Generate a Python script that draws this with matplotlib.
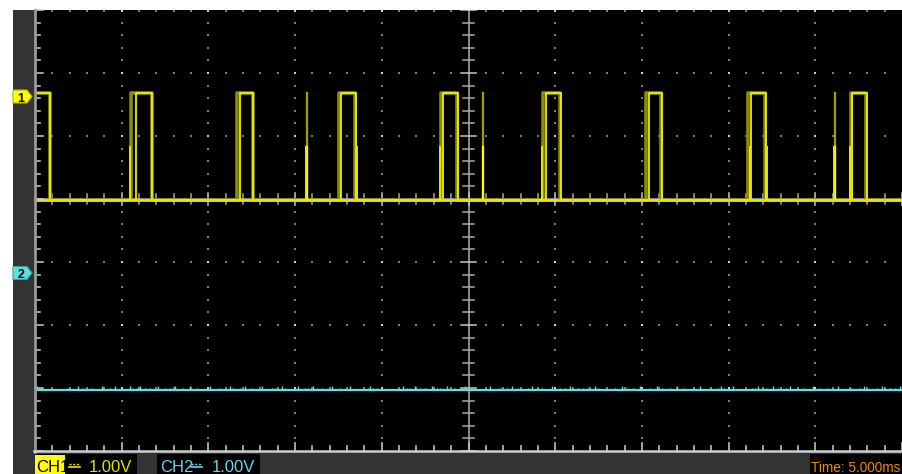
import numpy as np
import matplotlib
matplotlib.use("Agg")
import matplotlib.pyplot as plt
from matplotlib.patches import Rectangle, Polygon

W, H = 902, 474

# ---------------- data (screen units: ms and V, 5 ms/div, 1 V/div) ----------------
time_span_ms = 50.0
v_top, v_bottom = 3.0, -4.0
ch1_high = 1.68
ch1_low = -0.02
ch1_bright_rise = [5.83, 11.83, 17.66, 23.54, 29.48, 35.43, 41.31, 47.14]
ch1_bright_fall = [0.87, 6.75, 12.58, 18.52, 24.41, 30.35, 36.18, 42.18, 48.01]
ch1_dim_rise = [5.54, 11.66, 17.54, 23.43, 29.31, 35.25, 41.14, 47.03]
ch1_dim_fall = [0.84, 6.72, 12.55, 18.46, 24.35, 30.29, 36.12, 42.10, 47.95]
ch1_glitch = [15.69, 25.85, 46.15]
ch1_half_edges = [5.45, 15.60, 18.58, 23.38, 29.25, 41.25, 42.20, 46.10, 46.98]
ch1_half_level = 0.83
ch2_level = -3.03
ch2_spikes_tall = [0.1, 2.48, 3.87, 4.61, 5.48, 6.06, 7.10, 8.08, 8.94, 10.10, 11.25,
                   12.12, 13.10, 14.25, 15.18, 16.04, 17.14, 18.18, 19.33, 21.23, 21.93,
                   22.91, 23.77, 24.81, 26.25, 27.52, 28.68, 29.83, 30.87, 32.31, 33.87,
                   34.91, 35.89, 37.04, 38.37, 39.58, 40.27, 41.72, 42.58, 43.56, 44.89,
                   46.33, 47.78, 48.87, 49.91]
ch2_spikes_short = [0.4, 1.85, 2.77, 3.29, 4.33, 5.02, 5.65, 5.89, 6.35, 6.64, 7.50, 7.79,
                    8.54, 9.35, 10.67, 11.42, 11.83, 12.52, 13.68, 13.85, 14.43, 15.00,
                    15.58, 15.75, 16.27, 16.56, 17.60, 19.21, 19.50, 19.73, 21.46, 21.64,
                    22.21, 22.50, 23.20, 23.37, 24.23, 24.52, 26.83, 27.23, 27.87, 28.45,
                    28.97, 29.25, 30.29, 30.58, 31.33, 31.62, 31.91, 32.49, 33.47, 34.16,
                    34.51, 35.49, 36.18, 36.64, 37.39, 37.97, 38.95, 39.41, 39.76, 39.99,
                    41.37, 41.54, 42.00, 42.24, 42.87, 43.33, 44.31, 45.29, 45.70, 47.03,
                    47.60, 48.58, 49.33, 49.62]
ch2_tall_h = 0.06
ch2_short_h = 0.03
ch1_label = ["CH1", "1.00V"]
ch2_label = ["CH2", "1.00V"]
time_label = "Time: 5.000ms"

# ---------------- figure ----------------
fig = plt.figure(figsize=(W / 100, H / 100), dpi=100, facecolor="white")
FONT = ["Liberation Sans", "DejaVu Sans"]


def frect(x0, y0, x1, y1, color, z=0.5):
    fig.add_artist(Rectangle((x0 / W, 1 - y1 / H), (x1 - x0) / W, (y1 - y0) / H,
                             transform=fig.transFigure, facecolor=color,
                             edgecolor="none", zorder=z))


def fline(xs, ys, color, lw, z=3, ls="-"):
    fig.add_artist(plt.Line2D([x / W for x in xs], [1 - y / H for y in ys],
                              transform=fig.transFigure, color=color, lw=lw, zorder=z,
                              linestyle=ls))


def ftext(x, y, s, color, size=12, z=4, **kw):
    fig.text(x / W, 1 - y / H, s, color=color, fontsize=size, family=FONT,
             va="baseline", ha="left", zorder=z, **kw)


def dc_symbol(x, color):
    # DC coupling sign (U+2393, no installed font has it): dashed line over a solid line
    fline([x, x + 11], [463.5, 463.5], color, 1.0, z=4, ls=(0, (1.5, 1.2)))
    fline([x, x + 11], [467, 467], color, 1.2, z=4)


# background strips
frect(13, 10, 35, 474, "#333333")
frect(13, 451, 902, 474, "#333333")

ax = fig.add_axes([35 / W, (H - 451) / H, 867 / W, 441 / H], zorder=1)
ax.set_facecolor("black")
ax.set_xlim(0, time_span_ms)
ax.set_ylim(v_bottom, v_top)
for sp in ax.spines.values():
    sp.set_visible(False)
ax.set_xticks([])
ax.set_yticks([])

xdiv, ydiv = time_span_ms / 10, 1.0
xminor, yminor = xdiv / 5, ydiv / 5

# dotted grid
dot_x, dot_y = [], []
for gx in np.arange(xdiv, time_span_ms, xdiv):
    if abs(gx - 25) < 1e-6:
        continue
    for yy in np.arange(v_bottom, v_top + 1e-6, yminor):
        dot_x.append(gx); dot_y.append(yy)
for gy in np.arange(v_bottom + 1, v_top + 1e-6, ydiv):
    if abs(gy) < 1e-6:
        continue
    for xx in np.arange(xminor, time_span_ms, xminor):
        dot_x.append(xx); dot_y.append(gy - (0.015 if gy >= v_top - 1e-6 else 0))
ax.scatter(dot_x, dot_y, s=1.3, marker="s", color="#7c7c7c", linewidths=0, zorder=1)
ix, iy = [], []
for gx in np.arange(xdiv, time_span_ms, xdiv):
    for gy in np.arange(v_bottom + 1, v_top + 1e-6, ydiv):
        ix.append(gx); iy.append(gy - (0.015 if gy >= v_top - 1e-6 else 0))
ax.scatter(ix, iy, s=2.5, marker="s", color="#cfcfcf", linewidths=0, zorder=1)

# center axes with ticks
ax.axvline(25, color="#8a8a8a", lw=1.4, zorder=1.5)
ax.axhline(0, color="#8a8a8a", lw=1.4, zorder=1.5)
for yy in np.arange(v_bottom, v_top + 1e-6, yminor):
    major = abs(yy - round(yy)) < 1e-6
    hw = 0.45 if major else 0.33
    ax.plot([25 - hw, 25 + hw], [yy, yy], color="#c8c8c8" if major else "#a8a8a8",
            lw=1.1, zorder=1.6)
for xx in np.arange(0, time_span_ms + 1e-6, xminor):
    major = abs(xx / xdiv - round(xx / xdiv)) < 1e-6
    hh = 0.1 if major else 0.08
    ax.plot([xx, xx], [-hh, hh], color="#c8c8c8" if major else "#a8a8a8", lw=1.1, zorder=1.6)

# edge ticks (left and bottom)
for yy in np.arange(v_bottom, v_top + 1e-6, yminor):
    major = abs(yy - round(yy)) < 1e-6
    ax.plot([0, 0.45 if major else 0.3], [yy, yy], color="#d0d0d0", lw=1.1, zorder=1.6,
            clip_on=False)
for xx in np.arange(0, time_span_ms + 1e-6, xminor):
    major = abs(xx / xdiv - round(xx / xdiv)) < 1e-6
    ax.plot([xx, xx], [v_bottom, v_bottom + (0.12 if major else 0.08)], color="#c0c0c0",
            lw=1.2, zorder=1.6)


# CH1 trace
def step_trace(rises, falls):
    t, v = [0.0], [ch1_high]
    for i, f in enumerate(falls):
        t.append(f); v.append(ch1_low)
        if i < len(rises):
            t.append(rises[i]); v.append(ch1_high)
    t.append(time_span_ms); v.append(v[-1])
    return t, v


td, vd = step_trace(ch1_dim_rise, ch1_dim_fall)
ax.plot(td, vd, drawstyle="steps-post", color="#8c8c00", lw=2.6, zorder=3)
tb, vb = step_trace(ch1_bright_rise, ch1_bright_fall)
ax.plot(tb, vb, drawstyle="steps-post", color="#f0f000", lw=1.3, zorder=3.2)
for g in ch1_glitch:
    ax.plot([g, g], [ch1_low, ch1_high], color="#a0a000", lw=1.6, zorder=3.1)
    ax.plot([g, g], [ch1_low, ch1_half_level], color="#ffff00", lw=1.6, zorder=3.3)
for e in ch1_half_edges:
    ax.plot([e, e], [ch1_low, ch1_half_level], color="#e8e800", lw=1.4, zorder=3.3)
ax.axhline(ch1_low, color="#e6e600", lw=2.0, zorder=3.4)

# CH2 trace
ax.axhline(ch2_level, color="#5fe0e8", lw=1.6, zorder=3)
ax.vlines(ch2_spikes_tall, ch2_level, ch2_level + ch2_tall_h, color="#5fe0e8", lw=1.0, zorder=3)
ax.vlines(ch2_spikes_short, ch2_level, ch2_level + ch2_short_h, color="#5fe0e8", lw=1.0, zorder=3)

# frame lines
fline([34.5, 34.5], [10, 452], "#9a9a9a", 2.0)
fline([34, 902], [451.3, 451.3], "#cfcfcf", 1.8)

# channel markers
fig.add_artist(Polygon([(13 / W, 1 - 90 / H), (27 / W, 1 - 90 / H), (32 / W, 1 - 96.5 / H),
                        (27 / W, 1 - 103 / H), (13 / W, 1 - 103 / H)], closed=True,
                       transform=fig.transFigure, facecolor="#ffff00", edgecolor="#b0b000",
                       lw=0.8, zorder=3))
ftext(17.5, 101.5, "1", "black", size=9, weight="bold")
fig.add_artist(Polygon([(13 / W, 1 - 266.5 / H), (27 / W, 1 - 266.5 / H), (32 / W, 1 - 273 / H),
                        (27 / W, 1 - 279.5 / H), (13 / W, 1 - 279.5 / H)], closed=True,
                       transform=fig.transFigure, facecolor="#60dede", edgecolor="#30a0a0",
                       lw=0.8, zorder=3))
ftext(17.5, 278, "2", "black", size=9, weight="bold")

# bottom labels
frect(35, 454, 137, 474, "black", z=2)
frect(35, 455, 65, 474, "#ffff00", z=2.5)
ftext(36, 472, ch1_label[0], "black")
dc_symbol(69, "#e8e800")
ftext(89, 472, ch1_label[1], "#e0e000")

frect(157, 454, 260, 474, "black", z=2)
ftext(160, 472, ch2_label[0], "#66d4ee")
dc_symbol(191, "#66d4ee")
ftext(212, 472, ch2_label[1], "#66d4ee")

frect(810, 454, 902, 474, "black", z=2)
ftext(811, 472, time_label, "#e88a00", size=9.8)

fig.savefig("out.png", dpi=100, facecolor="white")
